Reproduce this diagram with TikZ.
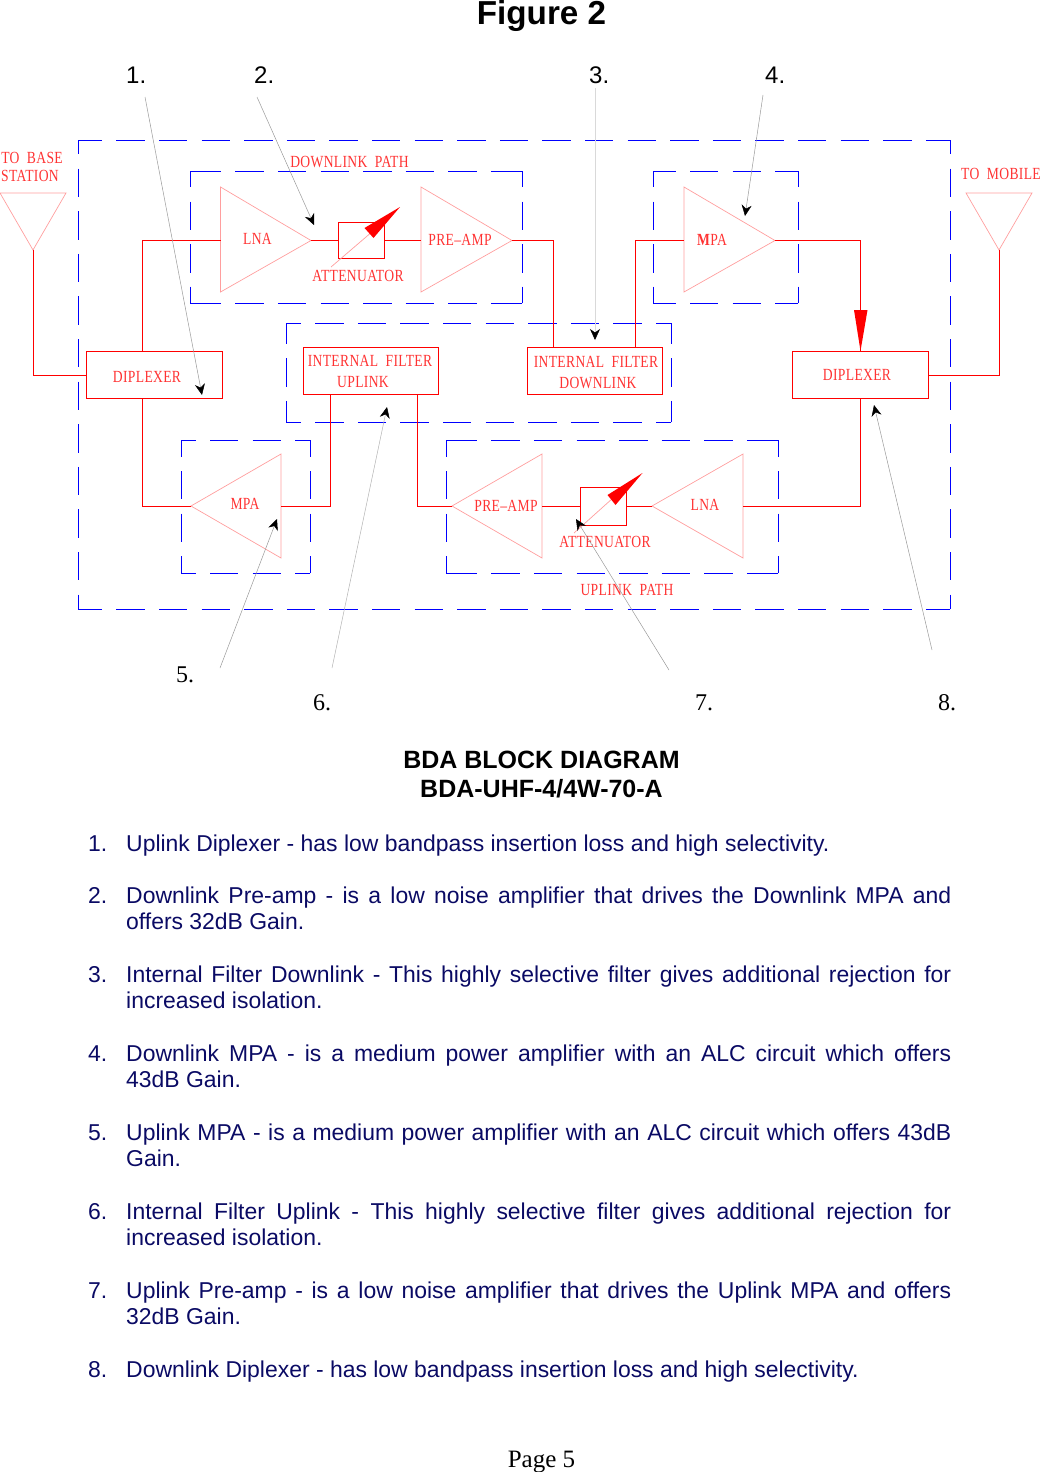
\documentclass[tikz,border=0pt]{standalone}
\usepackage{fontspec}
\setmainfont{Liberation Sans}
\newfontfamily\cadfont[FakeStretch=0.80,LetterSpace=2]{Liberation Serif}
\newfontfamily\timesfont{Liberation Serif}
\usetikzlibrary{arrows.meta,positioning}
\definecolor{listnavy}{RGB}{10,10,100}
\tikzset{
  frameline/.style={draw=blue,line width=1pt},
  wire/.style={draw=red,line width=1pt},
  amp/.style={draw=red!38,line width=.7pt},
  blockbox/.style={draw=red,line width=1pt,fill=white,inner sep=0pt,anchor=north west},
  cadlabel/.style={text=red!80,font=\cadfont\fontsize{17}{18}\selectfont,inner sep=0pt,anchor=base,align=center},
  leader/.style={draw=black!40,line width=.5pt,-{Stealth[length=11pt,width=10pt,inset=3.5pt,black]}},
  callout/.style={text=black,font=\fontsize{24}{26}\selectfont,inner sep=0pt,anchor=base west},
  calloutserif/.style={text=black,font=\timesfont\fontsize{24}{26}\selectfont,inner sep=0pt,anchor=base west},
  heading/.style={text=black,font=\bfseries\fontsize{25}{27}\selectfont,inner sep=0pt,anchor=base},
  itemnum/.style={text=listnavy,font=\fontsize{22.93}{26}\selectfont,inner sep=0pt,anchor=base west},
  itemtext/.style={text=listnavy,font=\fontsize{22.93}{26}\selectfont,inner sep=0pt,anchor=base west},
}
\newcommand{\itembody}[1]{\parbox[t]{825pt}{\hyphenpenalty=10000\exhyphenpenalty=10000\parindent=0pt\lineskiplimit=-100pt\baselineskip=26pt #1}}
% One side of a long-dash enclosure: dashes are laid out symmetrically,
% with a partial dash running into each corner.
\newcommand{\dashedge}[4]{%
  \pgfmathsetmacro\sideLen{veclen(#3-#1,#4-#2)}%
  \pgfmathsetmacro\sideCnt{floor(\sideLen/42.6)-1}%
  \pgfmathsetmacro\endDash{(\sideLen-14.2-42.6*\sideCnt)/2}%
  \pgfmathsetmacro\sidePhase{mod(28.4-\endDash+42.6,42.6)}%
  \pgfmathsetmacro\sideFrac{\endDash/\sideLen}%
  \draw[frameline,dash pattern=on 28.4pt off 14.2pt,dash phase=\sidePhase pt] (#1,#2) -- (#3,#4);%
  \draw[frameline] (#1,#2) -- ({#1+(#3-#1)*\sideFrac},{#2+(#4-#2)*\sideFrac});%
  \draw[frameline] (#3,#4) -- ({#3-(#3-#1)*\sideFrac},{#4-(#4-#2)*\sideFrac});%
}
\newcommand{\dashframe}[4]{%
  \dashedge{#1}{#2}{#3}{#2}\dashedge{#1}{#4}{#3}{#4}%
  \dashedge{#1}{#2}{#1}{#4}\dashedge{#3}{#2}{#3}{#4}%
}
\begin{document}
\begin{tikzpicture}[x=1pt,y=-1pt]
\useasboundingbox (0,0) rectangle (1039,1472);

% Headings
\node[heading,font=\bfseries\fontsize{33.2}{36}\selectfont] (fig) at (541.5,25) {Figure 2};

% Dashed enclosures
\dashframe{78}{140}{950}{609}
\dashframe{190}{171}{522}{303}
\dashframe{286}{323}{671}{422}
\dashframe{653}{171}{798}{303}
\dashframe{181}{440}{310}{573}
\dashframe{446}{440}{778}{573}

% Amplifier and antenna outlines
\draw[amp] (220.5,187) -- (220.5,292) -- (311,240.5) -- cycle;
\draw[amp] (421,187) -- (421,292) -- (512,240.5) -- cycle;
\draw[amp] (684,187) -- (684,292) -- (775,240.5) -- cycle;
\draw[amp] (281,454) -- (281,558) -- (191,506) -- cycle;
\draw[amp] (542,454) -- (542,558) -- (452,506) -- cycle;
\draw[amp] (743,454) -- (743,558) -- (652,506) -- cycle;
\draw[amp] (0,193) -- (66,193) -- (33,250) -- cycle;
\draw[amp] (966,193) -- (1032,193) -- (999,250) -- cycle;

% Amplifier and antenna terminals
\coordinate (lnaDin) at (220.5,240.5);
\coordinate (lnaDout) at (311,240.5);
\coordinate (preDin) at (421,240.5);
\coordinate (preDout) at (512,240.5);
\coordinate (mpaDin) at (684,240.5);
\coordinate (mpaDout) at (775,240.5);
\coordinate (mpaUin) at (281,506);
\coordinate (mpaUout) at (191,506);
\coordinate (preUin) at (542,506);
\coordinate (preUout) at (452,506);
\coordinate (lnaUin) at (743,506);
\coordinate (lnaUout) at (652,506);
\coordinate (antB) at (33,250);
\coordinate (antM) at (999,250);

% Blocks
\node[blockbox,minimum width=136pt,minimum height=47pt] (dipL) at (86,351) {};
\node[blockbox,minimum width=136pt,minimum height=47pt] (dipR) at (792,351) {};
\node[blockbox,minimum width=135pt,minimum height=47pt] (filtU) at (303,347) {};
\node[blockbox,minimum width=135pt,minimum height=47pt] (filtD) at (526.5,347) {};
\node[blockbox,minimum width=46.5pt,minimum height=36.5pt] (attD) at (337.5,221.5) {};
\node[blockbox,minimum width=46pt,minimum height=38pt] (attU) at (580,487) {};

% Block pins where wires leave away from the side centres
\coordinate (dipLt) at (142,351);
\coordinate (dipLb) at (142,398);
\coordinate (dipRt) at (860,351);
\coordinate (dipRb) at (860,398);
\coordinate (filtUa) at (330.5,394);
\coordinate (filtUb) at (417.5,394);
\coordinate (filtDa) at (553.5,347);
\coordinate (filtDb) at (635.5,347);

% Signal wiring
\draw[wire] (antB) |- (dipL.west);
\draw[wire] (dipLt) |- (lnaDin);
\draw[wire] (lnaDout) -- (attD.west |- lnaDout);
\draw[wire] (attD.east |- preDin) -- (preDin);
\draw[wire] (preDout) -| (filtDa);
\draw[wire] (filtDb) |- (mpaDin);
\draw[wire] (mpaDout) -| (dipRt);
\draw[wire] (dipR.east) -| (antM);
\draw[wire] (dipRb) |- (lnaUin);
\draw[wire] (lnaUout) -- (attU.east |- lnaUout);
\draw[wire] (attU.west |- preUin) -- (preUin);
\draw[wire] (preUout) -| (filtUb);
\draw[wire] (filtUa) |- (mpaUin);
\draw[wire] (mpaUout) -| (dipLb);

% Signal direction head into the mobile-side diplexer
\fill[red] (854,310) -- (867.5,310) -- (860.5,351) -- cycle;

% Variable attenuator slashes
\draw[amp] (331,267) -- (373,231);
\fill[red] (400,207) -- (364.5,228) -- (373.5,238) -- cycle;
\draw[amp] (574,533) -- (613,498);
\fill[red] (642.5,473) -- (607.5,495) -- (615.5,505) -- cycle;

% Block and path captions
\node[cadlabel] (tBase) at (32,163) {TO\ \ BASE};
\node[cadlabel] (tStat) at (30,181) {STATION};
\node[cadlabel] (tMob) at (1001,179) {TO\ \ MOBILE};
\node[cadlabel] (tDlp) at (349.5,167) {DOWNLINK\ \ PATH};
\node[cadlabel] (tUlp) at (627,595) {UPLINK\ \ PATH};
\node[cadlabel] (tLna1) at (257.5,244) {LNA};
\node[cadlabel] (tPre1) at (460,245) {PRE–AMP};
\node[cadlabel] (tAtt1) at (358,281) {ATTENUATOR};
\node[cadlabel] (tMpa1) at (712,245) {\textbf{M}PA};
\node[cadlabel] (tDip1) at (147,382) {DIPLEXER};
\node[cadlabel] (tDip2) at (857,380) {DIPLEXER};
\node[cadlabel] (tFu1) at (370,366) {INTERNAL\ \ FILTER};
\node[cadlabel] (tFu2) at (363,387) {UPLINK};
\node[cadlabel] (tFd1) at (596,367) {INTERNAL\ \ FILTER};
\node[cadlabel] (tFd2) at (598,388) {DOWNLINK};
\node[cadlabel] (tMpa2) at (245,509) {MPA};
\node[cadlabel] (tPre2) at (506,511) {PRE–AMP};
\node[cadlabel] (tLna2) at (705,510) {LNA};
\node[cadlabel] (tAtt2) at (605,547) {ATTENUATOR};

% Numbered callouts and their leaders
\node[callout] (c1) at (126,83) {1.};
\node[callout] (c2) at (254,83) {2.};
\node[callout] (c3) at (589,83) {3.};
\node[callout] (c4) at (765,83) {4.};
\node[calloutserif] (c5) at (176,682) {5.};
\node[calloutserif] (c6) at (313,710) {6.};
\node[calloutserif] (c7) at (695,710) {7.};
\node[calloutserif] (c8) at (938,710) {8.};
\coordinate (l1) at (145,97);
\coordinate (l2) at (257,97);
\coordinate (l3) at (595,88);
\coordinate (l4) at (763,95);
\coordinate (l5) at (220,668);
\coordinate (l6) at (332,668);
\coordinate (l7) at (669,670);
\coordinate (l8) at (932,650);
\coordinate (e1) at (202,395);
\coordinate (e2) at (314,225);
\coordinate (e3) at (595,340);
\coordinate (e4) at (745,216);
\coordinate (e5) at (277,519);
\coordinate (e6) at (387,407);
\coordinate (e7) at (576,519);
\coordinate (e8) at (874,405);
\draw[leader] (l1) -- (e1);
\draw[leader] (l2) -- (e2);
\draw[leader,draw=black!15] (l3) -- (e3);
\draw[leader] (l4) -- (e4);
\draw[leader] (l5) -- (e5);
\draw[leader,draw=black!30] (l6) -- (e6);
\draw[leader] (l7) -- (e7);
\draw[leader] (l8) -- (e8);

% Title block
\node[heading] (h1) at (541.5,768) {BDA BLOCK DIAGRAM};
\node[heading] (h2) at (541.5,797) {BDA-UHF-4/4W-70-A};

% Descriptions
\node[itemnum] (n1) at (88,851) {1.};
\node[itemtext] (i1) at (126,851) {\itembody{Uplink Diplexer - has low bandpass insertion loss and high selectivity.}};
\node[itemnum] (n2) at (88,903) {2.};
\node[itemtext] (i2) at (126,903) {\itembody{Downlink Pre-amp - is a low noise amplifier that drives the Downlink MPA and\linebreak offers 32dB Gain.}};
\node[itemnum] (n3) at (88,982) {3.};
\node[itemtext] (i3) at (126,982) {\itembody{Internal Filter Downlink - This highly selective filter gives additional rejection for\linebreak increased isolation.}};
\node[itemnum] (n4) at (88,1061) {4.};
\node[itemtext] (i4) at (126,1061) {\itembody{Downlink MPA - is a medium power amplifier with an ALC circuit which offers\linebreak 43dB Gain.}};
\node[itemnum] (n5) at (88,1140) {5.};
\node[itemtext] (i5) at (126,1140) {\itembody{Uplink MPA - is a medium power amplifier with an ALC circuit which offers 43dB\linebreak Gain.}};
\node[itemnum] (n6) at (88,1219) {6.};
\node[itemtext] (i6) at (126,1219) {\itembody{Internal Filter Uplink - This highly selective filter gives additional rejection for\linebreak increased isolation.}};
\node[itemnum] (n7) at (88,1298) {7.};
\node[itemtext] (i7) at (126,1298) {\itembody{Uplink Pre-amp - is a low noise amplifier that drives the Uplink MPA and offers\linebreak 32dB Gain.}};
\node[itemnum] (n8) at (88,1377) {8.};
\node[itemtext] (i8) at (126,1377) {\itembody{Downlink Diplexer - has low bandpass insertion loss and high selectivity.}};

% Page number
\node[calloutserif,font=\timesfont\fontsize{25}{28}\selectfont,anchor=base] (pg) at (541.5,1467) {Page 5};
\end{tikzpicture}
\end{document}
